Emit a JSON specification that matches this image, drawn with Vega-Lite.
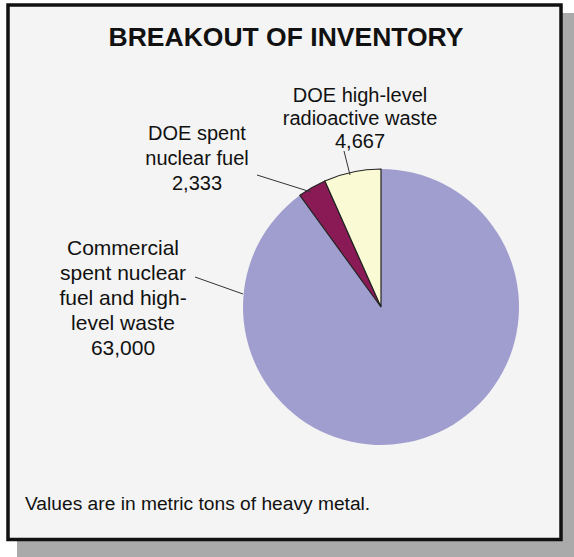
{
  "$schema": "https://vega.github.io/schema/vega-lite/v6.json",
  "width": 574,
  "height": 557,
  "padding": 0,
  "autosize": {"type": "none"},
  "background": "white",
  "config": {"view": {"stroke": null}, "font": "Liberation Sans"},
  "datasets": {
    "inventory": [
      {"category": "Commercial spent nuclear fuel and high-level waste", "value": 63000, "rank": 1, "label": "Commercial\nspent nuclear\nfuel and high-\nlevel waste\n63,000"},
      {"category": "DOE spent nuclear fuel", "value": 2333, "rank": 2, "label": "DOE spent\nnuclear fuel\n2,333"},
      {"category": "DOE high-level radioactive waste", "value": 4667, "rank": 3, "label": "DOE high-level\nradioactive waste\n4,667"}
    ],
    "frame": [{"title": "BREAKOUT OF INVENTORY", "note": "Values are in metric tons of heavy metal."}]
  },
  "layer": [
    {
      "data": {"name": "frame"},
      "mark": {"type": "rect", "fill": "#aaaaaa"},
      "encoding": {"x": {"value": 17}, "x2": {"value": 574}, "y": {"value": 13}, "y2": {"value": 557}}
    },
    {
      "data": {"name": "frame"},
      "mark": {"type": "rect", "fill": "#f4f4f4", "stroke": "#111111", "strokeWidth": 3.5},
      "encoding": {"x": {"value": 8}, "x2": {"value": 561}, "y": {"value": 5}, "y2": {"value": 539.5}}
    },
    {
      "data": {"name": "frame"},
      "mark": {"type": "text", "fontSize": 26.5, "fontWeight": "bold", "align": "center", "baseline": "alphabetic", "color": "#111111"},
      "encoding": {"x": {"value": 286}, "y": {"value": 46}, "text": {"field": "title"}}
    },
    {
      "data": {"name": "frame"},
      "mark": {"type": "text", "fontSize": 19.2, "align": "left", "baseline": "alphabetic", "color": "#111111"},
      "encoding": {"x": {"value": 25}, "y": {"value": 510}, "text": {"field": "note"}}
    },
    {
      "data": {"name": "inventory"},
      "mark": {"type": "arc", "outerRadius": 138, "strokeWidth": 1.2},
      "encoding": {
        "theta": {"field": "value", "type": "quantitative", "stack": true},
        "order": {"field": "rank", "type": "ordinal"},
        "x": {"value": 381},
        "y": {"value": 307},
        "color": {
          "field": "category",
          "type": "nominal",
          "legend": null,
          "scale": {
            "domain": ["Commercial spent nuclear fuel and high-level waste", "DOE spent nuclear fuel", "DOE high-level radioactive waste"],
            "range": ["#a09ecf", "#8a1a55", "#fafad4"]
          }
        },
        "stroke": {"condition": {"test": "datum.rank > 1", "value": "#222222"}, "value": null}
      }
    },
    {
      "data": {"name": "frame"},
      "mark": {"type": "rule", "color": "#333333", "strokeWidth": 1},
      "encoding": {"x": {"value": 344}, "y": {"value": 151}, "x2": {"value": 350}, "y2": {"value": 175}}
    },
    {
      "data": {"name": "frame"},
      "mark": {"type": "rule", "color": "#333333", "strokeWidth": 1},
      "encoding": {"x": {"value": 257}, "y": {"value": 175}, "x2": {"value": 311}, "y2": {"value": 192}}
    },
    {
      "data": {"name": "frame"},
      "mark": {"type": "rule", "color": "#333333", "strokeWidth": 1},
      "encoding": {"x": {"value": 195}, "y": {"value": 277}, "x2": {"value": 243}, "y2": {"value": 294}}
    },
    {
      "data": {"name": "inventory"},
      "transform": [{"filter": "datum.rank == 3"}],
      "mark": {"type": "text", "fontSize": 20, "lineHeight": 23, "lineBreak": "\n", "align": "center", "baseline": "alphabetic", "color": "#111111"},
      "encoding": {"x": {"value": 360}, "y": {"value": 102}, "text": {"field": "label"}}
    },
    {
      "data": {"name": "inventory"},
      "transform": [{"filter": "datum.rank == 2"}],
      "mark": {"type": "text", "fontSize": 20, "lineHeight": 25, "lineBreak": "\n", "align": "center", "baseline": "alphabetic", "color": "#111111"},
      "encoding": {"x": {"value": 197}, "y": {"value": 140}, "text": {"field": "label"}}
    },
    {
      "data": {"name": "inventory"},
      "transform": [{"filter": "datum.rank == 1"}],
      "mark": {"type": "text", "fontSize": 21, "lineHeight": 25, "lineBreak": "\n", "align": "center", "baseline": "alphabetic", "color": "#111111"},
      "encoding": {"x": {"value": 123}, "y": {"value": 255}, "text": {"field": "label"}}
    }
  ]
}
